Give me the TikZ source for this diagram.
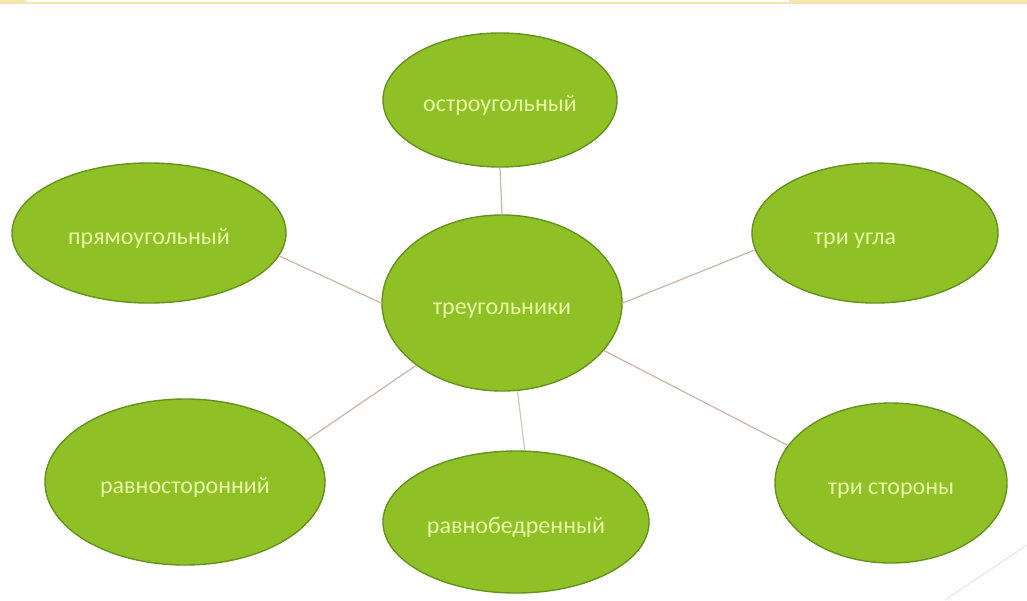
\documentclass[tikz,border=0pt]{standalone}
\usepackage{fontspec}
\setmainfont{Carlito}
\usetikzlibrary{shapes.geometric}
\definecolor{fillgreen}{HTML}{8FC126}
\definecolor{edgegreen}{HTML}{64921C}
\definecolor{txtgreen}{HTML}{E8F7A6}
\definecolor{connbrown}{HTML}{D2B3A3}
\definecolor{conngray}{HTML}{C9CBB2}
\definecolor{bandyellow}{HTML}{F7E6B2}
\newcommand{\lowtxt}[1]{\raisebox{-11pt}[0pt][0pt]{#1}}
\begin{document}
\begin{tikzpicture}[x=1pt,y=-1pt,
  blob/.style={ellipse, draw=edgegreen, line width=1.4pt, fill=fillgreen,
    text=txtgreen, inner sep=0pt, font=\fontsize{24}{28}\selectfont},
  conn/.style={draw=connbrown, line width=1.2pt},
  conng/.style={draw=conngray, line width=1.2pt}]
\useasboundingbox[fill=white] (0,0) rectangle (1027,600);
% top band
\fill[bandyellow] (0,0) rectangle (1027,3.5);
\fill[white] (26,0) rectangle (789,2);
% faint decoration bottom right
\draw[gray!25, line width=0.8pt] (945,600) -- (1027,545);
% nodes
\node[blob, minimum width=240pt, minimum height=176pt] (tri) at (502,303) {\lowtxt{треугольники}};
\node[blob, minimum width=234pt, minimum height=134pt] (ostro) at (500,100) {\lowtxt{остроугольный}};
\node[blob, minimum width=274pt, minimum height=140pt] (pryamo) at (149,233) {\lowtxt{прямоугольный}};
\node[blob, minimum width=246pt, minimum height=140pt] (ugla) at (875,233) {\lowtxt{три угла}\kern40pt\relax};
\node[blob, minimum width=280pt, minimum height=166pt] (ravnos) at (185,482) {\lowtxt{равносторонний}};
\node[blob, minimum width=266pt, minimum height=142pt] (ravnob) at (516,522) {\lowtxt{равнобедренный}};
\node[blob, minimum width=232pt, minimum height=160pt] (storony) at (891,483) {\lowtxt{три стороны}};
% connectors
\draw[conn] (ostro.south) -- (tri.north);
\draw[conn] (pryamo.-10) -- (tri.180);
\draw[conn] (ravnos.19) -- (tri.216);
\draw[conn] (tri.0) -- (ugla.188);
\draw[conn] (tri.-25) -- (storony.160);
\draw[conng] (tri.-80) -- (ravnob.83);
\end{tikzpicture}
\end{document}
